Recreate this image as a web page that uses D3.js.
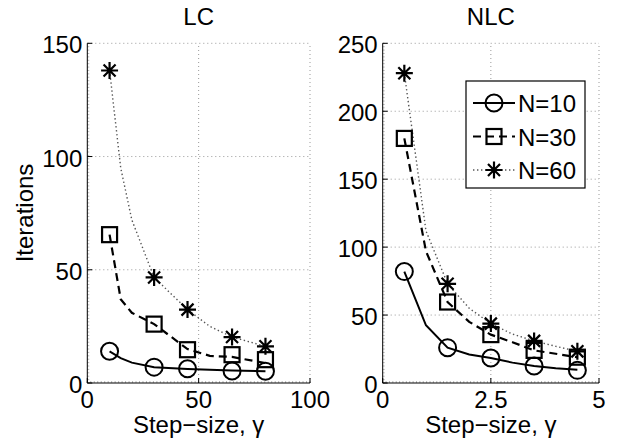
<!DOCTYPE html>
<meta charset="utf-8">
<style>
body { margin: 0; background: #fff; }
text { font-family: "Liberation Sans", Arial, sans-serif; fill: #000; }
</style>
<body>
<script src="https://d3js.org/d3.v7.min.js"></script>
<script>

// marker positions
var lcX = [10, 30, 45, 65, 80];
var lcN10 = [14, 7, 6.3, 5.3, 5.2];
var lcN30 = [65.5, 26, 14.7, 12.5, 10.3];
var lcN60 = [138, 46.6, 32.4, 20.3, 16.2];

var nlcX = [0.5, 1.5, 2.5, 3.5, 4.5];
var nlcN10 = [82, 26, 18.4, 12.5, 9.3];
var nlcN30 = [180, 59.6, 35.6, 24, 19];
var nlcN60 = [228, 73, 43.7, 31, 23.3];

// the lines are drawn on a finer grid than the markers
var lcLineX = [10, 15, 20, 30, 45, 55, 65, 80];
var lcLineN10 = [14, 11, 9, 7, 6.2, 5.8, 5.5, 5.2];
var lcLineN30 = [65.5, 37, 31, 26, 15, 12, 11.5, 8.8];
var lcLineN60 = [138, 95, 72, 46.6, 32.4, 25, 20.3, 16.2];

var nlcLineX = [0.5, 1, 1.5, 2, 2.5, 3, 3.5, 4, 4.5];
var nlcLineN10 = [82, 42.5, 26, 21, 18.4, 15, 12.5, 10.8, 9.8];
var nlcLineN30 = [180, 97, 59.6, 45, 35.6, 30, 24, 21.5, 19];
var nlcLineN60 = [228, 112, 73, 55, 43.7, 36, 31, 27, 23.3];

var seriesNames = ["N=10", "N=30", "N=60"];
var lcTicksX = [0, 50, 100], lcTicksY = [0, 50, 100, 150];
var nlcTicksX = [0, 2.5, 5], nlcTicksY = [0, 50, 100, 150, 200, 250];

var styles = [
  { marker: "circle", dash: null, width: 2, color: "#000" },
  { marker: "square", dash: "8,5", width: 2.2, color: "#000" },
  { marker: "star", dash: "1.4,2.6", width: 1.4, color: "#555" }
];

var fs = 24;

var svg = d3.select("body").append("svg")
    .attr("width", 619)
    .attr("height", 441);

function marker(g, type, cx, cy) {
  if (type == "circle") {
    g.append("circle").attr("cx", cx).attr("cy", cy).attr("r", 8.5)
      .attr("fill", "none").attr("stroke", "#000").attr("stroke-width", 2);
  } else if (type == "square") {
    g.append("rect").attr("x", cx - 7.5).attr("y", cy - 7.5)
      .attr("width", 15).attr("height", 15)
      .attr("fill", "none").attr("stroke", "#000").attr("stroke-width", 2.2);
  } else {
    var r = 8.5, d = r * Math.SQRT1_2;
    var p = "M" + (cx - r) + "," + cy + "h" + 2 * r +
            "M" + cx + "," + (cy - r) + "v" + 2 * r +
            "M" + (cx - d) + "," + (cy - d) + "l" + 2 * d + "," + 2 * d +
            "M" + (cx - d) + "," + (cy + d) + "l" + 2 * d + "," + (-2 * d);
    g.append("path").attr("d", p).attr("stroke", "#000").attr("stroke-width", 2.2);
  }
}

function panel(opt) {
  var x = d3.scaleLinear().domain(opt.xDomain).range([opt.left, opt.right]);
  var y = d3.scaleLinear().domain(opt.yDomain).range([383, 43.3]);
  var g = svg.append("g");

  // grid
  opt.ticksX.slice(1).forEach(function(t) {
    g.append("line").attr("x1", x(t)).attr("x2", x(t)).attr("y1", y.range()[0]).attr("y2", y.range()[1])
      .attr("stroke", "#999").attr("stroke-dasharray", "1,3");
  });
  opt.ticksY.slice(1).forEach(function(t) {
    g.append("line").attr("x1", x.range()[0]).attr("x2", x.range()[1]).attr("y1", y(t)).attr("y2", y(t))
      .attr("stroke", "#999").attr("stroke-dasharray", "1,3");
  });

  // minor ticks
  d3.range(0, 65).forEach(function(i) {
    var p = opt.left + i * (opt.right - opt.left) / 64;
    g.append("line").attr("x1", p).attr("x2", p).attr("y1", 383).attr("y2", 381)
      .attr("stroke", "#888").attr("stroke-width", 0.6);
  });
  d3.range(0, 101).forEach(function(i) {
    var p = 383 - i * (383 - 43.3) / 100;
    g.append("line").attr("x1", opt.left).attr("x2", opt.left + 2).attr("y1", p).attr("y2", p)
      .attr("stroke", "#888").attr("stroke-width", 0.6);
  });

  // axes
  g.append("line").attr("x1", opt.left).attr("x2", opt.right).attr("y1", 383).attr("y2", 383)
    .attr("stroke", "#000");
  g.append("line").attr("x1", opt.left).attr("x2", opt.left).attr("y1", 383).attr("y2", 43.3)
    .attr("stroke", "#000");
  opt.ticksX.forEach(function(t) {
    g.append("line").attr("x1", x(t)).attr("x2", x(t)).attr("y1", 383).attr("y2", 378)
      .attr("stroke", "#000");
    g.append("text").attr("x", x(t)).attr("y", 408).attr("text-anchor", "middle")
      .attr("font-size", fs).text(t);
  });
  opt.ticksY.forEach(function(t) {
    g.append("line").attr("x1", opt.left).attr("x2", opt.left + 5).attr("y1", y(t)).attr("y2", y(t))
      .attr("stroke", "#000");
    g.append("text").attr("x", opt.left - 5).attr("y", y(t) + 10).attr("text-anchor", "end")
      .attr("font-size", fs).text(t);
  });

  g.append("text").attr("x", (opt.left + opt.right) / 2).attr("y", 25)
    .attr("text-anchor", "middle").attr("font-size", fs).text(opt.title);
  g.append("text").attr("x", (opt.left + opt.right) / 2).attr("y", 433)
    .attr("text-anchor", "middle").attr("font-size", fs).text("Step\u2212size, \u03b3");

  var line = d3.line().x(function(d) { return x(d[0]); }).y(function(d) { return y(d[1]); });

  opt.lines.forEach(function(vals, i) {
    var s = styles[i];
    g.append("path").datum(opt.lineX.map(function(v, j) { return [v, vals[j]]; }))
      .attr("d", line).attr("fill", "none").attr("stroke", s.color)
      .attr("stroke-width", s.width).attr("stroke-dasharray", s.dash);
  });
  opt.marks.forEach(function(vals, i) {
    opt.markX.forEach(function(v, j) { marker(g, styles[i].marker, x(v), y(vals[j])); });
  });
  return g;
}

panel({ left: 87.3, right: 310, xDomain: [0, 100], yDomain: [0, 150],
  ticksX: lcTicksX, ticksY: lcTicksY, title: "LC",
  lineX: lcLineX, lines: [lcLineN10, lcLineN30, lcLineN60],
  markX: lcX, marks: [lcN10, lcN30, lcN60] });

panel({ left: 382.7, right: 599, xDomain: [0, 5], yDomain: [0, 250],
  ticksX: nlcTicksX, ticksY: nlcTicksY, title: "NLC",
  lineX: nlcLineX, lines: [nlcLineN10, nlcLineN30, nlcLineN60],
  markX: nlcX, marks: [nlcN10, nlcN30, nlcN60] });

svg.append("text").attr("transform", "translate(33,213) rotate(-90)")
  .attr("text-anchor", "middle").attr("font-size", fs).text("Iterations");

// legend
var leg = svg.append("g");
leg.append("rect").attr("x", 466).attr("y", 81).attr("width", 119).attr("height", 107)
  .attr("fill", "#fff").attr("stroke", "#000").attr("stroke-width", 1.2);
seriesNames.forEach(function(name, i) {
  var ly = 103 + i * 33.5, s = styles[i];
  leg.append("line").attr("x1", 473).attr("x2", 515).attr("y1", ly).attr("y2", ly)
    .attr("stroke", s.color).attr("stroke-width", s.width).attr("stroke-dasharray", s.dash);
  marker(leg, s.marker, 494, ly);
  leg.append("text").attr("x", 518).attr("y", ly + 9).attr("font-size", fs).text(name);
});

</script>
</body>
